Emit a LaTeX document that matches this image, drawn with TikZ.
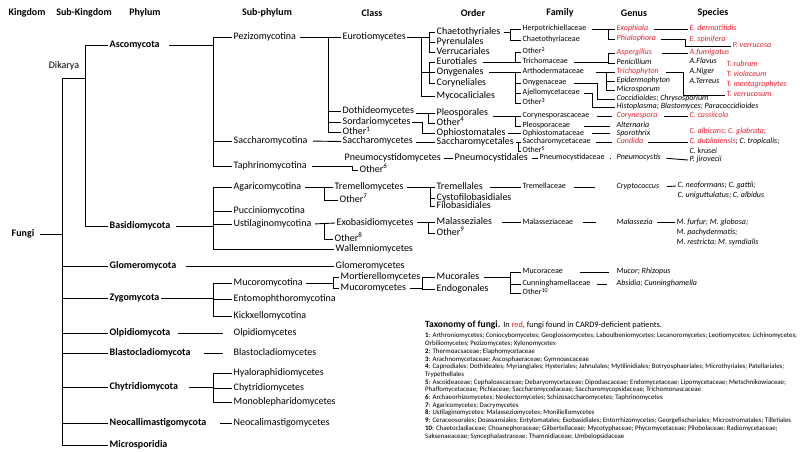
\documentclass[tikz,border=0pt]{standalone}
\usepackage{fontspec}
\setmainfont{Carlito}
\usepackage{tikz}
\usetikzlibrary{positioning,calc}
\definecolor{cardred}{RGB}{232,32,48}
\tikzset{rank/.style={font=\bfseries\fontsize{10}{12}\selectfont, inner sep=1pt}}
\tikzset{taxon/.style={anchor=west, inner xsep=1.5pt, inner ysep=0pt, text height=6.6pt, text depth=1.9pt, font=\fontsize{10}{12}\selectfont}}
\tikzset{phylum/.style={taxon, font=\bfseries\fontsize{10}{12}\selectfont}}
\tikzset{family/.style={anchor=west, inner xsep=1.5pt, inner ysep=0pt, text height=5.5pt, text depth=1.6pt, font=\fontsize{8}{9.6}\selectfont}}
\tikzset{genus/.style={family, font=\itshape\fontsize{8}{9.6}\selectfont}}
\tikzset{hit/.style={genus, text=cardred}}
\tikzset{link/.style={line width=0.9pt}}
\tikzset{startgap/.style={shorten <=#1}, endgap/.style={shorten >=#1}}
\tikzset{notes/.style={anchor=north west, align=left, inner sep=0pt, font=\fontsize{6.85}{7.7}\selectfont}}

\begin{document}
\begin{tikzpicture}[x=1pt, y=-1pt]
  \fill[white] (0,0) rectangle (800,451);
  \useasboundingbox (0,0) rectangle (800,451);

  % rank headers
  \node[rank] (hking) at (27,13) {Kingdom};
  \node[rank] (hsubk) at (84,13) {Sub-Kingdom};
  \node[rank] (hphyl) at (145,13) {Phylum};
  \node[rank] (hsubp) at (267,13) {Sub-phylum};
  \node[rank] (hclas) at (372,13) {Class};
  \node[rank] (hordr) at (473,13) {Order};
  \node[rank] (hfami) at (560,13) {Family};
  \node[rank] (hgenu) at (634,13) {Genus};
  \node[rank] (hspec) at (713,13) {Species};

  % kingdom, sub-kingdom
  \node[phylum] (fungi) at (10,234) {Fungi};
  \node[taxon, anchor=center] (dika) at (64,66) {Dikarya};

  % phyla
  \node[phylum] (asco) at (108,45) {Ascomycota};
  \node[phylum] (basi) at (108,226) {Basidiomycota};
  \node[phylum] (glom) at (108,266) {Glomeromycota};
  \node[phylum] (zygo) at (108,298) {Zygomycota};
  \node[phylum] (olpi) at (108,333) {Olpidiomycota};
  \node[phylum] (blas) at (108,353) {Blastocladiomycota};
  \node[phylum] (chyt) at (108,387) {Chytridiomycota};
  \node[phylum] (neoc) at (108,423) {Neocallimastigomycota};
  \node[phylum] (micr) at (108,445) {Microsporidia};

  % sub-phyla
  \node[taxon] (pezi) at (232,37) {Pezizomycotina};
  \node[taxon] (sacc) at (232,141) {Saccharomycotina};
  \node[taxon] (taph) at (232,166) {Taphrinomycotina};
  \node[taxon] (agar) at (232,187) {Agaricomycotina};
  \node[taxon] (pucc) at (232,211) {Pucciniomycotina};
  \node[taxon] (usti) at (232,224) {Ustilaginomycotina};
  \node[taxon] (mucr) at (232,283) {Mucoromycotina};
  \node[taxon] (ento) at (232,299) {Entomophthoromycotina};
  \node[taxon] (kick) at (232,316) {Kickxellomycotina};
  \node[taxon] (olpc) at (232,333) {Olpidiomycetes};
  \node[taxon] (blac) at (232,353) {Blastocladiomycetes};
  \node[taxon] (hyal) at (232,373) {Hyaloraphidiomycetes};
  \node[taxon] (chyc) at (232,388) {Chytridiomycetes};
  \node[taxon] (mono) at (232,402) {Monoblepharidomycetes};
  \node[taxon] (neoC) at (232,423) {Neocalimastigomycetes};

  % classes
  \node[taxon] (euc) at (341,37) {Eurotiomycetes};
  \node[taxon] (doth) at (341,111.5) {Dothideomycetes};
  \node[taxon] (sord) at (341,122) {Sordariomycetes};
  \node[taxon] (oth1) at (341,132.5) {Other\textsuperscript{1}};
  \node[taxon] (sacC) at (341,141.5) {Saccharomycetes};
  \node[taxon] (pncC) at (343,158) {Pneumocystidomycetes};
  \node[taxon] (oth6) at (358,170) {Other\textsuperscript{6}};
  \node[taxon] (trec) at (333,187) {Tremellomycetes};
  \node[taxon] (oth7) at (338,200) {Other\textsuperscript{7}};
  \node[taxon] (exoc) at (335,223) {Exobasidiomycetes};
  \node[taxon] (oth8) at (333,239) {Other\textsuperscript{8}};
  \node[taxon] (walc) at (334,249) {Wallemniomycetes};
  \node[taxon] (glc) at (334,266) {Glomeromycetes};
  \node[taxon] (morc) at (339,277) {Mortierellomycetes};
  \node[taxon] (mucc) at (339,288) {Mucoromycetes};

  % orders
  \node[taxon] (chae) at (435,32) {Chaetothyriales};
  \node[taxon] (pyre) at (435,42) {Pyrenulales};
  \node[taxon] (verr) at (435,52) {Verrucariales};
  \node[taxon] (eura) at (435,62) {Eurotiales};
  \node[taxon] (onyg) at (435,72) {Onygenales};
  \node[taxon] (cory) at (435,83) {Coryneliales};
  \node[taxon] (myco) at (435,96) {Mycocaliciales};
  \node[taxon] (pleo) at (435,113) {Pleosporales};
  \node[taxon] (oth4) at (435,123) {Other\textsuperscript{4}};
  \node[taxon] (ophi) at (435,133.5) {Ophiostomatales};
  \node[taxon] (sacO) at (435,142) {Saccharomycetales};
  \node[taxon] (pnO) at (453,158) {Pneumocystidales};
  \node[taxon] (trel) at (435,187) {Tremellales};
  \node[taxon] (cyst) at (435,198) {Cystofilobasidiales};
  \node[taxon] (filo) at (435,206.5) {Filobasidiales};
  \node[taxon] (malO) at (435,222.5) {Malasseziales};
  \node[taxon] (oth9) at (435,233) {Other\textsuperscript{9}};
  \node[taxon] (mucO) at (435,277) {Mucorales};
  \node[taxon] (endo) at (435,289) {Endogonales};

  % families
  \node[family] (herp) at (521,29) {Herpotrichiellaceae};
  \node[family] (chaf) at (521,40) {Chaetothyriaceae};
  \node[family] (oth2) at (521,52) {Other\textsuperscript{2}};
  \node[family] (trif) at (521,62) {Trichomaceae};
  \node[family] (arth) at (521,72) {Arthodermataceae};
  \node[family] (onyf) at (521,83) {Onygenaceae};
  \node[family] (ajel) at (521,93) {Ajellomycetaceae};
  \node[family] (oth3) at (521,103) {Other\textsuperscript{3}};
  \node[family] (coyf) at (521,116) {Corynesporascaceae};
  \node[family] (plef) at (521,126) {Pleosporaceae};
  \node[family] (ophf) at (521,133.5) {Ophiostomataceae};
  \node[family] (sacf) at (521,142) {Saccharomycetaceae};
  \node[family] (oth5) at (521,151) {Other\textsuperscript{5}};
  \node[family] (pnf) at (538,158) {Pneumocystidaceae};
  \node[family] (tref) at (521,187) {Tremellaceae};
  \node[family] (malf) at (521,222.5) {Malasseziaceae};
  \node[family] (mucf) at (521,272) {Mucoraceae};
  \node[family] (cunf) at (521,284) {Cunninghamellaceae};
  \node[family] (oth10) at (521,293) {Other\textsuperscript{10}};

  % genera
  \node[hit] (exop) at (615,29) {Exophiala};
  \node[hit] (phia) at (615,39) {Phialophora};
  \node[hit] (aspe) at (615,53) {Aspergillus};
  \node[genus] (peni) at (615,63) {Penicillium};
  \node[hit] (trig) at (615,72) {Trichophyton};
  \node[genus] (epid) at (615,81) {Epidermophyton};
  \node[genus] (mics) at (615,90) {Microsporum};
  \node[genus] (cocc) at (615,99) {Coccidioides; Chrysosporium};
  \node[genus] (hist) at (615,107) {Histoplasma; Blastomyces; Paracoccidioides};
  \node[hit] (coyg) at (615,116) {Corynespora};
  \node[genus] (alte) at (615,126) {Alternaria};
  \node[genus] (spor) at (615,133.5) {Sporothrix};
  \node[hit] (cand) at (615,142) {Candida};
  \node[genus] (pnG) at (615,158) {Pneumocystis};
  \node[genus] (cryp) at (615,187) {Cryptococcus};
  \node[genus] (malg) at (615,222.5) {Malassezia};
  \node[genus] (mucg) at (615,272) {Mucor; Rhizopus};
  \node[genus] (absg) at (615,284) {Absidia; Cunninghamella};

  % species
  \node[hit] (sder) at (688,29) {E. dermatitidis};
  \node[hit] (sspi) at (688,39.5) {E. spinifera};
  \node[hit] (sver) at (731,46) {P. verrucosa};
  \node[hit] (sfum) at (688,53) {A.fumigatus};
  \node[genus] (sfla) at (688,62) {A.Flavus};
  \node[genus] (snig) at (688,72) {A.Niger};
  \node[genus] (ster) at (688,82) {A.Terreus};
  \node[hit] (srub) at (725,65) {T. rubrum};
  \node[hit] (svio) at (725,75) {T. violaceum};
  \node[hit] (smen) at (725,84.5) {T. mentagrophytes};
  \node[hit] (svrc) at (725,95) {T. verrucosum};
  \node[hit] (scas) at (688,116) {C. cassiicola};
  \node[hit] (salb) at (688,132) {C. albicans; C. glabrata;};
  \node[genus] (sdub) at (688,142) {\textcolor{cardred}{C. dubliniensis}; C. tropicalis;};
  \node[genus] (skru) at (688,152) {C. krusei};
  \node[genus] (sjir) at (688,160) {P. jirovecii};
  \node[genus] (sneo) at (676,186) {C. neoformans; C. gattii;};
  \node[genus] (suni) at (676,196) {C. uniguttulatus; C. albidus};
  \node[genus] (sfur) at (675,222.5) {M. furfur; M. globosa;};
  \node[genus] (spac) at (675,233) {M. pachydermatis;};
  \node[genus] (sres) at (675,243) {M. restricta; M. symdialis};

  % junctions
  \coordinate (jK) at (62,78);
  \coordinate (jD) at (85,78);
  \coordinate (jS) at (213,0);
  \coordinate (jPz) at (328,0);
  \coordinate (jTa) at (352,0);
  \coordinate (jAg) at (324,0);
  \coordinate (jMu) at (333,0);
  \coordinate (jEu) at (421,0);
  \coordinate (jEa) at (429,0);
  \coordinate (jDo) at (428,0);
  \coordinate (jSo) at (422,0);
  \coordinate (jTr) at (430,0);
  \coordinate (jEx) at (428,0);
  \coordinate (jMc) at (422,0);
  \coordinate (jCh) at (510,0);
  \coordinate (jOn) at (515,0);
  \coordinate (jSa) at (518,0);
  \coordinate (jMf) at (510,0);
  \coordinate (jHe) at (608,0);
  \coordinate (jAr) at (606,0);
  \coordinate (jOy) at (597,0);
  \coordinate (jAj) at (592,0);
  \coordinate (jPh) at (685,0);
  \coordinate (jTg) at (683,0);

  \begin{scope}[link]
  % kingdom trunk
  \draw[startgap=4pt] (fungi.east) -- (fungi.east -| jK);
  \draw (jK) -- (jK |- micr.west);
  \foreach \p in {glom,zygo,olpi,blas,chyt,neoc,micr} \draw (jK |- \p.west) -- (\p.west);
  \draw (jK) -- (jD);
  \draw (jD |- asco.west) -- (jD |- basi.west);
  \foreach \p in {asco,basi} \draw (jD |- \p.west) -- (\p.west);

  % phyla -> sub-phyla
  \draw[startgap=8pt] (asco.east) -- (jS |- asco.east);
  \draw (jS |- pezi.west) -- (jS |- taph.west);
  \foreach \c in {pezi,sacc,taph} \draw (jS |- \c.west) -- (\c.west);
  \draw[startgap=4pt] (basi.east) -- (jS |- basi.east);
  \draw (jS |- agar.west) -- (jS |- walc.west);
  \foreach \c in {agar,pucc,usti,walc} \draw (jS |- \c.west) -- (\c.west);
  \draw[startgap=8pt] (glom.east) -- (glc.west);
  \draw (zygo.east) -- (jS |- zygo.east);
  \draw (jS |- mucr.west) -- (jS |- kick.west);
  \foreach \c in {mucr,ento,kick} \draw (jS |- \c.west) -- (\c.west);
  \draw[startgap=6pt, endgap=9pt] (olpi.east) -- (olpc.west);
  \draw[startgap=12pt, endgap=9pt] (blas.east) -- (blac.west);
  \draw[startgap=9pt] (chyt.east) -- (jS |- chyt.east);
  \draw (jS |- hyal.west) -- (jS |- mono.west);
  \foreach \c in {hyal,chyc,mono} \draw (jS |- \c.west) -- (\c.west);
  \draw[startgap=12pt] (neoc.east) -- (neoC.west);

  % sub-phyla -> classes
  \draw[startgap=2pt] (pezi.east) -- (euc.west);
  \draw (jPz |- euc.west) -- (jPz |- oth1.west);
  \foreach \c in {doth,sord,oth1} \draw (jPz |- \c.west) -- (\c.west);
  \draw[startgap=4pt] (sacc.east) -- (sacC.west);
  \draw[startgap=4pt] (taph.east) -- (jTa |- taph.east);
  \draw (jTa |- taph.east) -- (jTa |- oth6.west) -- (oth6.west);
  \draw[startgap=2pt] (agar.east) -- (trec.west);
  \draw (jAg |- trec.west) -- (jAg |- oth7.west) -- (oth7.west);
  \draw[startgap=2pt] (usti.east) -- (exoc.west);
  \draw (jAg |- exoc.west) -- (jAg |- oth8.west) -- (oth8.west);
  \draw[startgap=2pt] (mucr.east) -- (jMu |- mucr.east);
  \draw (jMu |- morc.west) -- (jMu |- mucc.west);
  \foreach \c in {morc,mucc} \draw (jMu |- \c.west) -- (\c.west);

  % classes -> orders
  \draw (euc.east) -- (jEa |- euc.east);
  \draw (jEu |- euc.east) -- (jEu |- myco.west) -- (myco.west);
  \draw (jEa |- chae.west) -- (jEa |- verr.west);
  \foreach \o in {chae,pyre,verr} \draw (jEa |- \o.west) -- (\o.west);
  \draw (jEu |- onyg.west) -- (jEa |- onyg.west);
  \draw (jEa |- eura.west) -- (jEa |- cory.west);
  \foreach \o in {eura,onyg,cory} \draw (jEa |- \o.west) -- (\o.west);
  \draw (doth.east |- pleo.west) -- (pleo.west);
  \draw (jDo |- pleo.west) -- (jDo |- oth4.west) -- (oth4.west);
  \draw (sord.east) -- (jSo |- sord.east) -- (jSo |- ophi.west) -- (ophi.west);
  \draw[startgap=2pt] (sacC.east |- sacO.west) -- (sacO.west);
  \draw[startgap=2pt] (pncC.east) -- (pnO.west);
  \draw[startgap=2pt] (trec.east) -- (trel.west);
  \draw (jTr |- trel.west) -- (jTr |- filo.west);
  \foreach \o in {cyst,filo} \draw (jTr |- \o.west) -- (\o.west);
  \draw[startgap=2pt] (exoc.east |- malO.west) -- (malO.west);
  \draw (jEx |- malO.west) -- (jEx |- oth9.west) -- (oth9.west);
  \draw[startgap=2pt] (mucc.east) -- (jMc |- mucc.east);
  \draw (jMc |- mucO.west) -- (jMc |- endo.west);
  \foreach \o in {mucO,endo} \draw (jMc |- \o.west) -- (\o.west);

  % orders -> families
  \draw[startgap=2pt] (chae.east) -- (jCh |- chae.east);
  \draw (jCh |- herp.west) -- (jCh |- chaf.west);
  \foreach \f in {herp,chaf} \draw (jCh |- \f.west) -- (\f.west);
  \draw[startgap=4pt] (eura.east) -- (trif.west);
  \draw (jOn |- oth2.west) -- (jOn |- trif.west);
  \draw (jOn |- oth2.west) -- (oth2.west);
  \draw[startgap=4pt] (onyg.east) -- (arth.west);
  \draw (jOn |- arth.west) -- (jOn |- oth3.west);
  \foreach \f in {onyf,ajel,oth3} \draw (jOn |- \f.west) -- (\f.west);
  \draw[startgap=3pt] (pleo.east |- coyf.west) -- (coyf.west);
  \draw (jOn |- coyf.west) -- (jOn |- plef.west) -- (plef.west);
  \draw[startgap=1pt] (ophi.east) -- (ophf.west);
  \draw[startgap=1pt] (sacO.east) -- (jSa |- sacO.east);
  \draw (jSa |- sacf.west) -- (jSa |- oth5.west);
  \foreach \f in {sacf,oth5} \draw (jSa |- \f.west) -- (\f.west);
  \draw[startgap=2pt] (pnO.east) -- (pnf.west);
  \draw[startgap=5pt] (trel.east) -- (tref.west);
  \draw[startgap=8pt] (malO.east) -- (malf.west);
  \draw[startgap=3pt] (mucO.east) -- (jMf |- mucO.east);
  \draw (jMf |- mucf.west) -- (jMf |- oth10.west);
  \foreach \f in {mucf,cunf,oth10} \draw (jMf |- \f.west) -- (\f.west);

  % families -> genera
  \draw[startgap=4pt] (herp.east) -- (jHe |- herp.east);
  \draw (jHe |- exop.west) -- (jHe |- phia.west);
  \foreach \g in {exop,phia} \draw (jHe |- \g.west) -- (\g.west);
  \draw[startgap=4pt] (trif.east) -- (jHe |- trif.east);
  \draw (jHe |- aspe.west) -- (jHe |- peni.west);
  \foreach \g in {aspe,peni} \draw (jHe |- \g.west) -- (\g.west);
  \draw[startgap=10pt] (arth.east) -- (jAr |- arth.east);
  \draw (jAr |- trig.west) -- (jAr |- mics.west);
  \foreach \g in {trig,epid,mics} \draw (jAr |- \g.west) -- (\g.west);
  \draw[startgap=6pt] (onyf.east) -- (jOy |- onyf.east) -- (jOy |- cocc.west) -- (cocc.west);
  \draw[startgap=3pt] (ajel.east) -- (jAj |- ajel.east) -- (jAj |- hist.west) -- (hist.west);
  \draw[startgap=6pt, endgap=3pt] (coyf.east) -- (coyg.west);
  \draw[startgap=12pt, endgap=5pt] (plef.east) -- (alte.west);
  \draw[startgap=6pt, endgap=5pt] (ophf.east) -- (spor.west);
  \draw[startgap=4pt, endgap=3pt] (sacf.east) -- (cand.west);
  \draw[startgap=4pt, endgap=4pt] (pnf.east) -- (pnG.west);
  \draw[startgap=6pt, endgap=20pt] (tref.east) -- (cryp.west);
  \draw[startgap=8pt, endgap=19pt] (malf.east) -- (malg.west);
  \draw[startgap=15pt, endgap=6pt] (mucf.east) -- (mucg.west);
  \draw[startgap=5pt, endgap=8pt] (cunf.east) -- (absg.west);

  % genera -> species
  \draw[startgap=4pt] (exop.east) -- (sder.west);
  \draw[startgap=3pt] (phia.east) -- (jPh |- phia.east) -- (jPh |- sver.west) -- (sver.west);
  \draw[startgap=8pt] (aspe.east) -- (sfum.west);
  \draw[startgap=5pt] (trig.east) -- (jTg |- trig.east) -- (jTg |- svrc.west) -- (svrc.west);
  \draw[startgap=5pt] (coyg.east) -- (scas.west);
  \draw[startgap=3pt] (cand.east) -- (sdub.west);
  \draw[startgap=4pt] (pnG.east) -- (sjir.west);
  \draw[startgap=6pt] (cryp.east) -- (sneo.west);
  \draw[startgap=3pt] (malg.east) -- (sfur.west);
  \end{scope}

  % legend
  \node[anchor=west, inner sep=0pt] (ttl) at (425,325)
    {{\bfseries\fontsize{9.5}{11}\selectfont Taxonomy of fungi.} {\fontsize{8.3}{10}\selectfont In \textcolor{cardred}{red}, fungi found in CARD9-deficient patients.}};
  \node[notes] (fnotes) at (425,333) {%
    \textbf{1}: Arthroniomycetes; Coniocybomycetes; Geoglossomycetes; Laboulbeniomycetes; Lecanoromycetes; Leotiomycetes; Lichinomycetes;\\
    Orbiliomycetes; Pezizomycetes; Xylonomycetes\\
    \textbf{2}: Thermoacsaceae; Elaphomycetaceae\\
    \textbf{3}: Arachnomycetaceae; Ascosphaeraceae; Gymnoascaceae\\
    \textbf{4}: Capnodiales; Dothideales; Myriangiales; Hysteriales; Jahnulales; Mytilinidiales; Botryosphaeriales; Microthyriales; Patellariales;\\
    Trypethellales\\
    \textbf{5}: Ascoideaceae; Cephaloascaceae; Debaryomycetaceae; Dipodascaceae; Endomycetaceae; Lipomycetaceae; Metschnikowiaceae;\\
    Phaffomycetaceae; Pichiaceae; Saccharomycodaceae; Saccharomycopsidaceae; Trichomonascaceae\\
    \textbf{6}: Archaeorhizomycetes; Neolectomycetes; Schizosaccharomycetes; Taphrinomycetes\\
    \textbf{7}: Agaricomycetes; Dacrymycetes\\
    \textbf{8}: Ustilaginomycetes; Malasseziomycetes; Moniliellomycetes\\
    \textbf{9}: Ceraceosorales; Doassansiales; Entylomatales; Exobasidiales; Entorrhizomycetes; Georgefischeriales; Microstromatales; Tilletiales\\
    \textbf{10}: Chaetocladiaceae; Choanephoraceae; Gilbertellaceae; Mycotyphaceae; Phycomycetaceae; Pilobolaceae; Radiomycetaceae;\\
    Saksenaeaceae; Syncephalastraceae; Thamnidiaceae; Umbelopsidaceae};
\end{tikzpicture}
\end{document}
